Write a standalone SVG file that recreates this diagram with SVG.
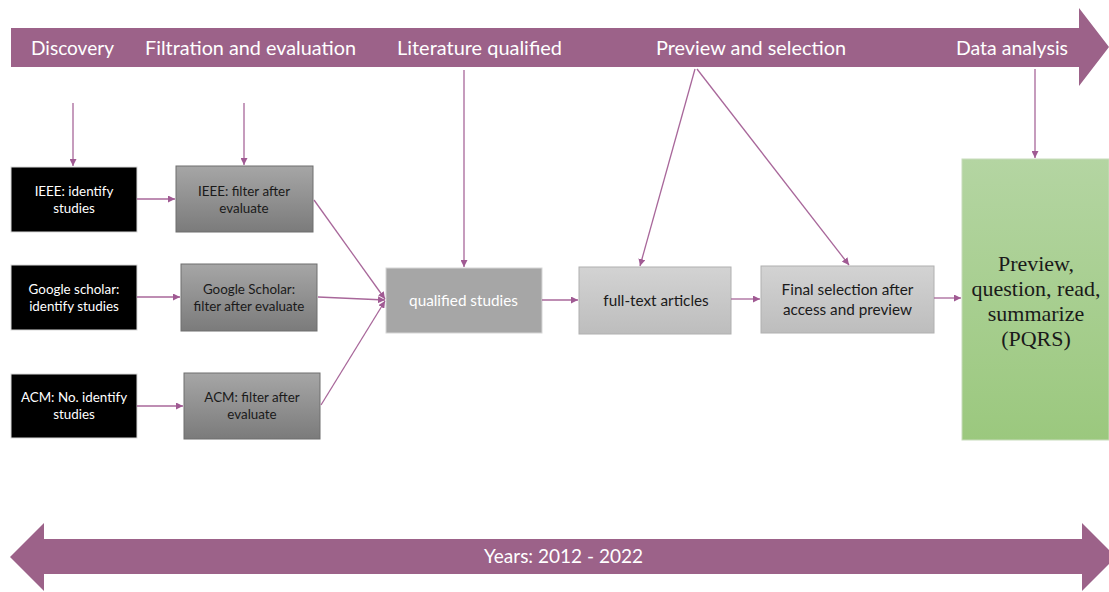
<svg xmlns="http://www.w3.org/2000/svg" width="1109" height="592" viewBox="0 0 1109 592">
  <style>
    .band { fill: #9c6289; }
    .band-label { font-family: Lato, "Open Sans", sans-serif; font-size: 19px; fill: #ffffff; text-anchor: middle; }
    .box-label { font-family: Lato, "Open Sans", sans-serif; font-size: 13.4px; text-anchor: middle; }
    .mid-label { font-size: 15.3px; }
    .light { fill: #ffffff; }
    .dark { fill: #1a1a1a; }
    .src { fill: #000000; stroke: #d9d9d9; stroke-width: 1; }
    .filter { fill: url(#gFilter); stroke: #6e6e6e; stroke-width: 1; }
    .pale { fill: url(#gPale); stroke: #b0b0b0; stroke-width: 1; }
    .flow line { stroke: #a8679a; stroke-width: 1.3; fill: none; marker-end: url(#tip); }
    .serif-label { font-family: "Liberation Serif", serif; font-size: 22px; fill: #1a1a1a; text-anchor: middle; }
  </style>
  <defs>
    <marker id="tip" viewBox="0 0 10 10" refX="10" refY="5" markerWidth="7" markerHeight="7" markerUnits="userSpaceOnUse" orient="auto">
      <path d="M0,0 L10,5 L0,10 Z" fill="#a05a93"/>
    </marker>
    <linearGradient id="gFilter" x1="0" y1="0" x2="0" y2="1">
      <stop offset="0" stop-color="#a6a6a6"/>
      <stop offset="1" stop-color="#7b7b7b"/>
    </linearGradient>
    <linearGradient id="gPale" x1="0" y1="0" x2="0" y2="1">
      <stop offset="0" stop-color="#d3d3d3"/>
      <stop offset="1" stop-color="#bdbdbd"/>
    </linearGradient>
    <linearGradient id="gGreen" x1="0" y1="0" x2="0" y2="1">
      <stop offset="0" stop-color="#b4d5a2"/>
      <stop offset="1" stop-color="#9bc87e"/>
    </linearGradient>
  </defs>

  <rect width="1109" height="592" fill="#ffffff"/>

  <!-- process stage band -->
  <g id="stage-band">
    <path class="band" d="M11,28 H1079 V8 L1109,47 L1079,86 V67 H11 Z"/>
    <text class="band-label" x="72.5" y="55" textLength="83" lengthAdjust="spacingAndGlyphs">Discovery</text>
    <text class="band-label" x="250.5" y="55" textLength="211" lengthAdjust="spacingAndGlyphs">Filtration and evaluation</text>
    <text class="band-label" x="479.5" y="55" textLength="165" lengthAdjust="spacingAndGlyphs">Literature qualified</text>
    <text class="band-label" x="751" y="55" textLength="190" lengthAdjust="spacingAndGlyphs">Preview and selection</text>
    <text class="band-label" x="1012" y="55" textLength="112" lengthAdjust="spacingAndGlyphs">Data analysis</text>
  </g>

  <!-- timeline band -->
  <g id="years-band">
    <path class="band" d="M10,557 L44,523 V539 H1082 V523 L1116,557 L1082,591 V574 H44 V591 Z"/>
    <text class="band-label" x="563.5" y="563" textLength="159" lengthAdjust="spacingAndGlyphs">Years: 2012 - 2022</text>
  </g>

  <g id="ieee-identify">
    <rect class="src" x="11" y="167" width="126" height="65"/>
    <text class="box-label light" x="74" y="196">IEEE: identify</text>
    <text class="box-label light" x="74" y="213">studies</text>
  </g>
  <g id="ieee-filter">
    <rect class="filter" x="176" y="166" width="137" height="66"/>
    <text class="box-label dark" x="244" y="196">IEEE: filter after</text>
    <text class="box-label dark" x="244" y="213">evaluate</text>
  </g>
  <g id="scholar-identify">
    <rect class="src" x="11" y="265" width="126" height="65"/>
    <text class="box-label light" x="74" y="294">Google scholar:</text>
    <text class="box-label light" x="74" y="311">identify studies</text>
  </g>
  <g id="scholar-filter">
    <rect class="filter" x="181" y="264" width="136" height="67"/>
    <text class="box-label dark" x="249" y="294">Google Scholar:</text>
    <text class="box-label dark" x="249" y="311">filter after evaluate</text>
  </g>
  <g id="acm-identify">
    <rect class="src" x="11" y="374" width="126" height="64"/>
    <text class="box-label light" x="74" y="402">ACM: No. identify</text>
    <text class="box-label light" x="74" y="419">studies</text>
  </g>
  <g id="acm-filter">
    <rect class="filter" x="184" y="373" width="136" height="66"/>
    <text class="box-label dark" x="252" y="402">ACM: filter after</text>
    <text class="box-label dark" x="252" y="419">evaluate</text>
  </g>
  <g id="qualified-studies">
    <rect x="386" y="268" width="156" height="65" fill="#a6a6a6" stroke="#d6d6d6" stroke-width="1"/>
    <text class="box-label mid-label light" x="463.5" y="306">qualified studies</text>
  </g>
  <g id="full-text">
    <rect class="pale" x="579" y="267" width="152" height="67"/>
    <text class="box-label mid-label dark" x="656" y="306">full-text articles</text>
  </g>
  <g id="final-selection">
    <rect class="pale" x="761" y="266" width="173" height="67"/>
    <text class="box-label mid-label dark" x="847.5" y="295">Final selection after</text>
    <text class="box-label mid-label dark" x="847.5" y="315">access and preview</text>
  </g>
  <g id="pqrs">
    <rect x="962" y="159" width="147" height="281" fill="url(#gGreen)" stroke="#c8dcbc" stroke-width="1"/>
    <text class="serif-label" x="1036" y="271">Preview,</text>
    <text class="serif-label" x="1036" y="296">question, read,</text>
    <text class="serif-label" x="1036" y="321">summarize</text>
    <text class="serif-label" x="1036" y="346">(PQRS)</text>
  </g>

  <!-- connectors -->
  <g id="connectors" class="flow">
    <line x1="73" y1="103" x2="73" y2="166"/>
    <line x1="244" y1="103" x2="244" y2="165"/>
    <line x1="464" y1="70" x2="464" y2="267"/>
    <line x1="695" y1="69" x2="640" y2="266"/>
    <line x1="697" y1="69" x2="849" y2="265"/>
    <line x1="1035" y1="69" x2="1035" y2="158"/>
    <line x1="137" y1="199" x2="175" y2="199"/>
    <line x1="137" y1="297" x2="180" y2="297"/>
    <line x1="137" y1="406" x2="183" y2="406"/>
    <line x1="314" y1="200" x2="385" y2="299"/>
    <line x1="318" y1="297" x2="385" y2="300"/>
    <line x1="321" y1="405" x2="385" y2="301"/>
    <line x1="542" y1="300" x2="578" y2="300"/>
    <line x1="731" y1="299" x2="760" y2="299"/>
    <line x1="934" y1="298" x2="961" y2="298"/>
  </g>
</svg>
